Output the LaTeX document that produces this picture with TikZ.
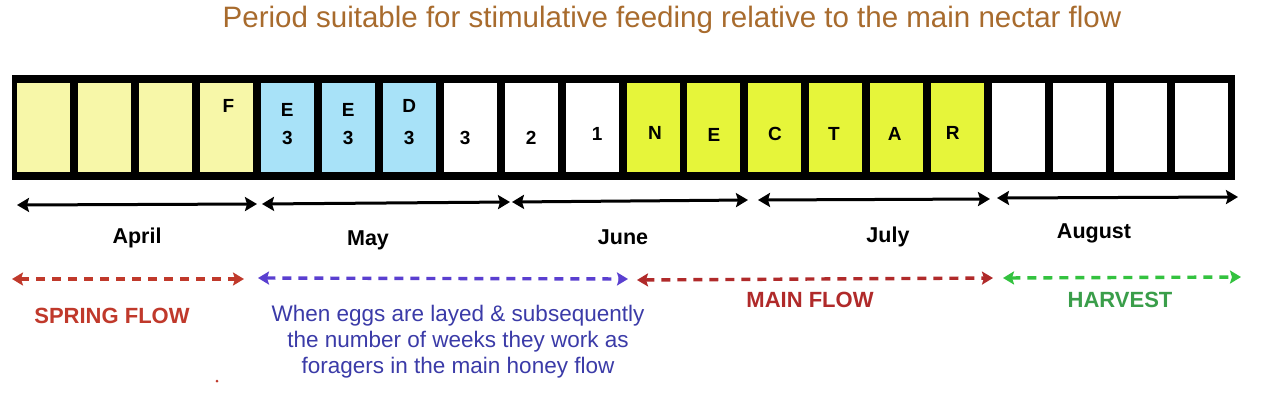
\documentclass[tikz,border=0pt]{standalone}
\usepackage{fontspec}
\setmainfont{Liberation Sans}
\usetikzlibrary{arrows.meta}
\definecolor{titlec}{HTML}{A86B2D}
\definecolor{paley}{HTML}{F7F7A8}
\definecolor{paleb}{HTML}{A8E2F8}
\definecolor{limey}{HTML}{E6F53A}
\definecolor{sred}{HTML}{C0392B}
\definecolor{mred}{HTML}{B02A2A}
\definecolor{dblue}{HTML}{5A3FD0}
\definecolor{tblue}{HTML}{3B3BA8}
\definecolor{dgreen}{HTML}{33C23F}
\definecolor{tgreen}{HTML}{3A9E4A}
\begin{document}
\begin{tikzpicture}[x=1pt,y=-1pt,
  cell/.style={rectangle,minimum width=53pt,minimum height=89pt,inner sep=0pt,draw=none},
  lbl/.style={font=\bfseries\fontsize{19}{19}\selectfont,inner sep=0pt},
  month/.style={font=\bfseries\fontsize{21.5}{21.5}\selectfont,inner sep=0pt},
  marr/.style={line width=3pt,{Stealth[length=12pt,width=14pt,inset=2pt]}-{Stealth[length=12pt,width=14pt,inset=2pt]}},
  darr/.style={line width=3.4pt,dash pattern=on 9pt off 7pt,{Stealth[length=11pt,width=13pt,inset=2pt]}-{Stealth[length=11pt,width=13pt,inset=2pt]}},
  flowlbl/.style={font=\bfseries\fontsize{22}{22}\selectfont,inner sep=0pt}]
\useasboundingbox (0,0) rectangle (1278,407);
\fill[white] (0,0) rectangle (1278,407);
% title
\node[font=\fontsize{29.5}{29.5}\selectfont,text=titlec,inner sep=0pt] (title) at (672,20) {Period suitable for stimulative feeding relative to the main nectar flow};
% frame
\node[fill=black,minimum width=1223pt,minimum height=105pt,inner sep=0pt] (frame) at (623.5,127.5) {};
% cells
\foreach \i/\c in {1/paley,2/paley,3/paley,4/paley,5/paleb,6/paleb,7/paleb,8/white,9/white,10/white,
  11/limey,12/limey,13/limey,14/limey,15/limey,16/limey,17/white,18/white,19/white,20/white}{
  \node[cell,fill=\c] (b\i) at ({43.5+60.95*(\i-1)},127.5) {};
}
% cell labels (yshift is in canvas units: positive = up)
\node[lbl] (tF) at ([xshift=2pt,yshift=22pt]b4.center) {F};
\node[lbl] (tE1) at ([yshift=18pt]b5.center) {E};
\node[lbl] (tE1n) at ([yshift=-10pt]b5.center) {3};
\node[lbl] (tE2) at ([yshift=18pt]b6.center) {E};
\node[lbl] (tE2n) at ([yshift=-10pt]b6.center) {3};
\node[lbl] (tD) at ([yshift=22pt]b7.center) {D};
\node[lbl] (tDn) at ([yshift=-10pt]b7.center) {3};
\node[lbl] (t3) at ([xshift=-5pt,yshift=-10pt]b8.center) {3};
\node[lbl] (t2) at ([yshift=-10pt]b9.center) {2};
\node[lbl] (t1) at ([xshift=5pt,yshift=-6pt]b10.center) {1};
\node[lbl] (tN) at ([xshift=2pt,yshift=-5pt]b11.center) {N};
\node[lbl] (tE) at ([yshift=-7pt]b12.center) {E};
\node[lbl] (tC) at ([yshift=-6pt]b13.center) {C};
\node[lbl] (tT) at ([xshift=-2pt,yshift=-6pt]b14.center) {T};
\node[lbl] (tA) at ([xshift=-2pt,yshift=-6pt]b15.center) {A};
\node[lbl] (tR) at ([xshift=-5pt,yshift=-5pt]b16.center) {R};
% month arrows
\coordinate (a1) at (17,205); \coordinate (a2) at (257,204);
\coordinate (m1) at (262,204); \coordinate (m2) at (510,202);
\coordinate (j1) at (512,202); \coordinate (j2) at (748,200);
\coordinate (l1) at (758,200); \coordinate (l2) at (990,199);
\coordinate (g1) at (997,198); \coordinate (g2) at (1238,197);
\draw[marr] (a1) -- (a2);
\draw[marr] (m1) -- (m2);
\draw[marr] (j1) -- (j2);
\draw[marr] (l1) -- (l2);
\draw[marr] (g1) -- (g2);
\node[month] (apr) at (137,238) {April};
\node[month] (may) at (368,240) {May};
\node[month] (jun) at (623,237) {June};
\node[month] (jul) at (888,237) {July};
\node[month] (aug) at (1094,233) {August};
% flow arrows
\coordinate (s1) at (12,279); \coordinate (s2) at (244,279);
\coordinate (w1) at (258,278); \coordinate (w2) at (628,279);
\coordinate (f1) at (637,280); \coordinate (f2) at (993,278);
\coordinate (h1) at (1003,278); \coordinate (h2) at (1241,277);
\draw[darr,sred] (s1) -- (s2);
\draw[darr,dblue] (w1) -- (w2);
\draw[darr,mred] (f1) -- (f2);
\draw[darr,dgreen] (h1) -- (h2);
\node[flowlbl,text=sred] (spring) at (112,316) {SPRING FLOW};
\node[flowlbl,text=mred] (main) at (810,300) {MAIN FLOW};
\node[flowlbl,text=tgreen] (harv) at (1120,300) {HARVEST};
\node[font=\fontsize{22.5}{26}\selectfont,text=tblue,align=center,inner sep=0pt] (eggs) at (458,342)
  {When eggs are layed \& subsequently\\the number of weeks they work as\\foragers in the main honey flow};
\fill[sred] (217,381) circle (1.5pt);
\end{tikzpicture}
\end{document}
